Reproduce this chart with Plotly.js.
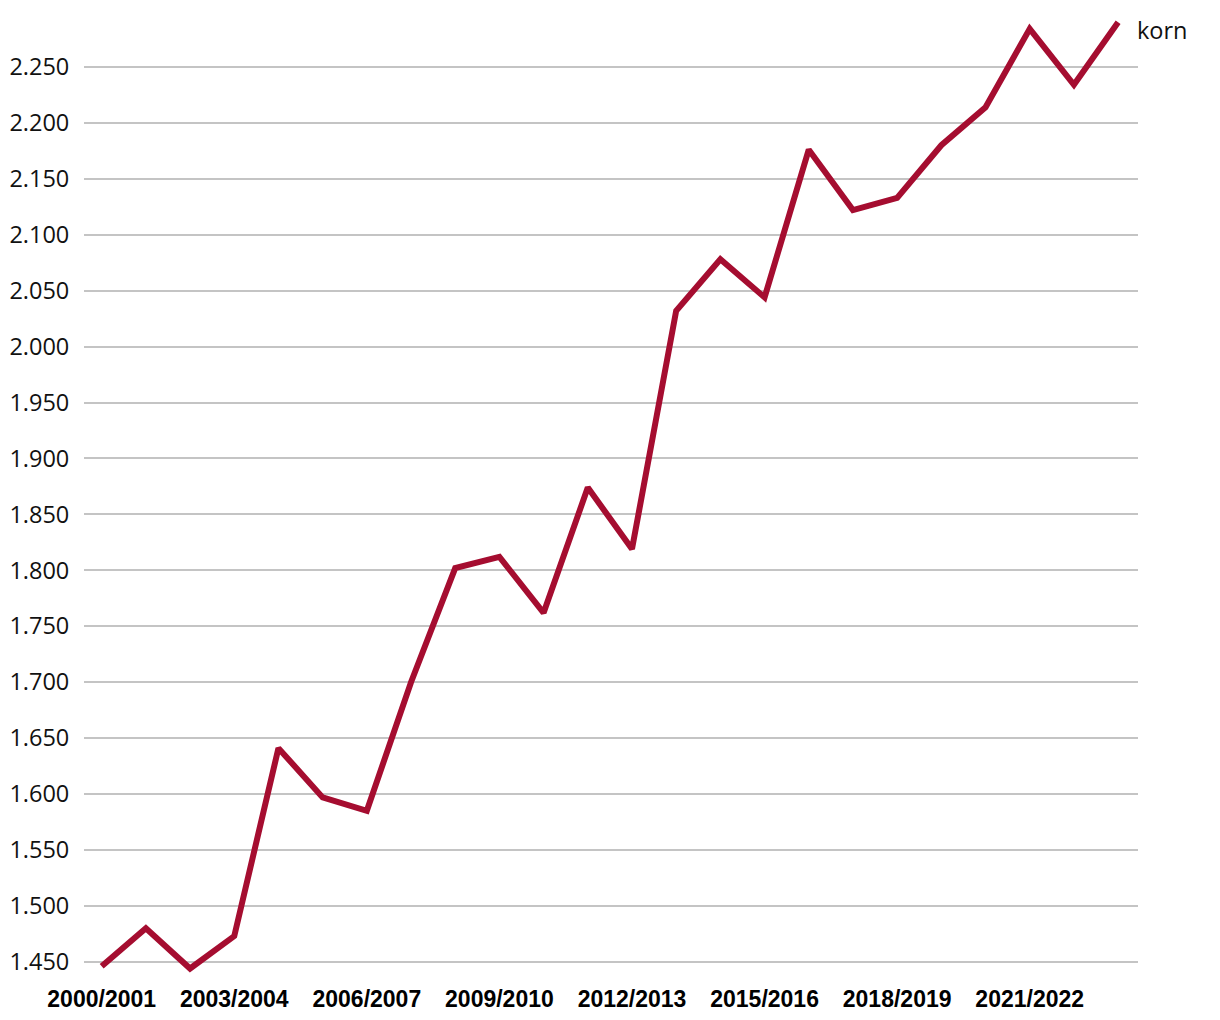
<!DOCTYPE html>
<html>
<head>
<meta charset="utf-8">
<script src="https://cdn.plot.ly/plotly-3.0.1.min.js"></script>
<style>html,body{margin:0;padding:0;background:#fff;}#chart{width:1220px;height:1020px;}</style>
</head>
<body>
<div id="chart"></div>
<script>
const seasons = ["2000/2001","2001/2002","2002/2003","2003/2004","2004/2005","2005/2006","2006/2007","2007/2008","2008/2009","2009/2010","2010/2011","2011/2012","2012/2013","2013/2014","2014/2015","2015/2016","2016/2017","2017/2018","2018/2019","2019/2020","2020/2021","2021/2022","2022/2023","2023/2024"];
const korn = [1446,1480,1444,1473,1641,1597,1585,1700,1802,1812,1762,1874,1819,2032,2078,2044,2176,2122,2133,2180,2214,2284,2234,2290];
const seriesName = "korn";
const yTicks = [1450,1500,1550,1600,1650,1700,1750,1800,1850,1900,1950,2000,2050,2100,2150,2200,2250];
const xTickLabels = seasons.filter((s,i)=>i%3===0);

const trace = {
  x: seasons, y: korn, type: 'scatter', mode: 'lines', name: seriesName,
  line: {color: '#a50d30', width: 6, shape: 'linear'},
  hoverinfo: 'x+y'
};
const layout = {
  width: 1220, height: 1020,
  margin: {l: 84, r: 82, t: 11, b: 47},
  paper_bgcolor: '#fff', plot_bgcolor: '#fff',
  separators: ',.',
  showlegend: false,
  xaxis: {
    type: 'category', range: [-0.4, 23.45],
    tickmode: 'array', tickvals: xTickLabels, ticktext: xTickLabels,
    showgrid: false, zeroline: false, showline: false,
    ticks: 'outside', ticklen: 5, tickcolor: 'rgba(0,0,0,0)',
    tickfont: {family: 'Liberation Sans, Arial, sans-serif', size: 23, color: '#000', weight: 'bold'}
  },
  yaxis: {
    range: [1440, 2300],
    tickmode: 'array', tickvals: yTicks,
    tickformat: ',d',
    showgrid: true, gridcolor: '#c4c4c4', gridwidth: 2,
    zeroline: false, showline: false,
    ticks: 'outside', ticklen: 9, tickcolor: 'rgba(0,0,0,0)',
    tickfont: {family: 'Open Sans, Noto Sans, sans-serif', size: 23.5, color: '#111'}
  },
  annotations: [{
    x: seasons[seasons.length-1], y: korn[korn.length-1], xref: 'x', yref: 'y',
    text: seriesName, showarrow: false, xanchor: 'left', yanchor: 'middle',
    xshift: 17, yshift: -8,
    font: {family: 'Open Sans, Noto Sans, sans-serif', size: 23.5, color: '#111'}
  }]
};
Plotly.newPlot('chart', [trace], layout, {displayModeBar: false, staticPlot: true});
</script>
</body>
</html>
